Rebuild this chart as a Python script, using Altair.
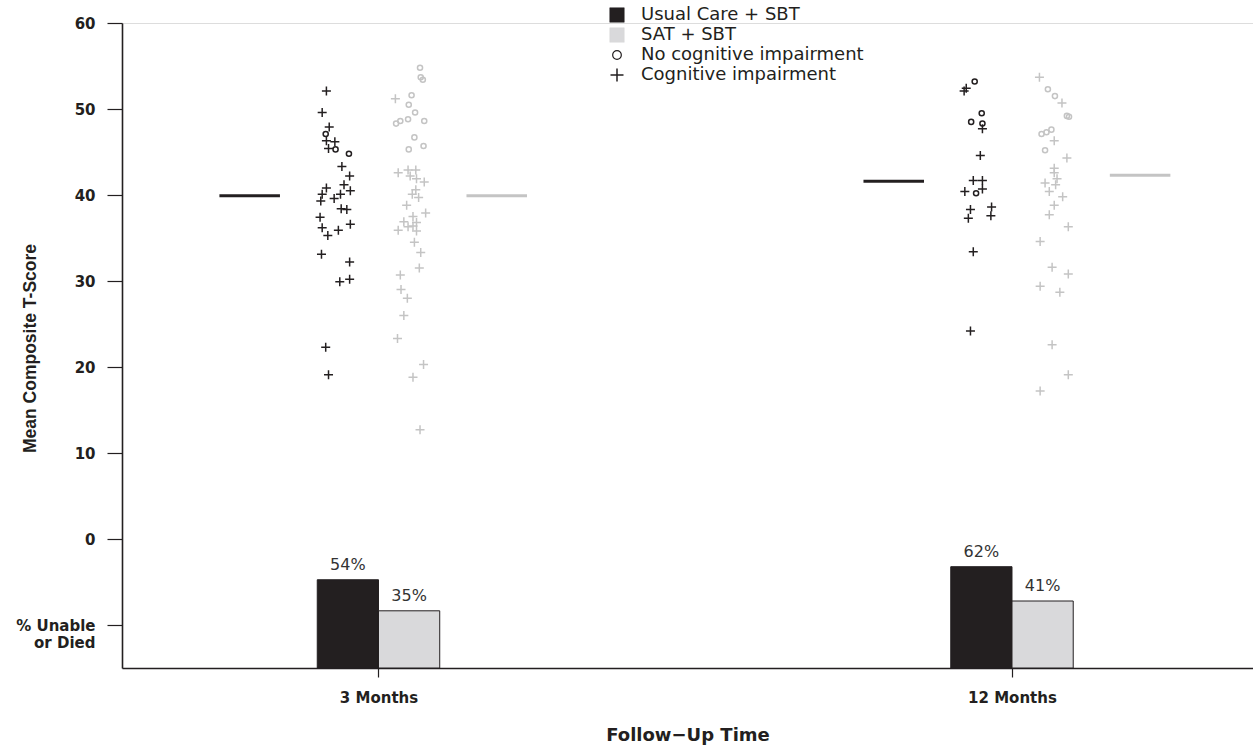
import altair as alt
import pandas as pd

# ---------------- data ----------------
group_labels = ["3 Months", "12 Months"]
group_x = [3, 12]
arms = ["Usual Care + SBT", "SAT + SBT"]

mean_usual = [39.9, 41.6]
mean_sat = [39.9, 42.3]
pct_usual = [54, 62]
pct_sat = [35, 41]

# Usual Care + SBT, 3 months
u3_x = [2.26, 2.20, 2.30, 2.25, 2.26, 2.38, 2.29, 2.39, 2.58, 2.48, 2.59, 2.51, 2.26, 2.60, 2.46, 2.20,
        2.37, 2.18, 2.47, 2.55, 2.17, 2.60, 2.20, 2.43, 2.28, 2.19, 2.59, 2.59, 2.45, 2.25, 2.29]
u3_y = [52.1, 49.6, 47.9, 47.1, 46.3, 46.2, 45.4, 45.3, 44.8, 43.3, 42.2, 41.2, 40.8, 40.5, 40.1, 40.1,
        39.6, 39.3, 38.4, 38.3, 37.4, 36.6, 36.2, 35.9, 35.3, 33.1, 32.2, 30.2, 29.9, 22.3, 19.1]
u3_s = ["+", "+", "+", "o", "+", "+", "+", "o", "o", "+", "+", "+", "+", "+", "+", "+",
        "+", "+", "+", "+", "+", "+", "+", "+", "+", "+", "+", "+", "+", "+", "+"]

# SAT + SBT, 3 months
s3_x = [3.59, 3.60, 3.63, 3.24, 3.47, 3.43, 3.52, 3.25, 3.31, 3.42, 3.65, 3.51, 3.43, 3.64, 3.28, 3.42,
        3.53, 3.45, 3.54, 3.65, 3.53, 3.48, 3.57, 3.40, 3.67, 3.49, 3.36, 3.54, 3.42, 3.49, 3.28, 3.54,
        3.51, 3.60, 3.58, 3.31, 3.32, 3.41, 3.36, 3.27, 3.64, 3.49, 3.59]
s3_y = [54.8, 53.7, 53.4, 51.2, 51.6, 50.5, 49.6, 48.3, 48.6, 48.8, 48.6, 46.7, 45.3, 45.7, 42.6, 42.9,
        42.9, 42.2, 41.9, 41.5, 40.6, 40.1, 39.7, 38.8, 37.9, 37.5, 36.9, 36.8, 36.3, 36.4, 35.9, 35.8,
        34.5, 33.3, 31.5, 30.7, 29.0, 28.0, 26.0, 23.3, 20.3, 18.8, 12.7]
s3_s = ["o", "o", "o", "+", "o", "o", "o", "o", "o", "o", "o", "o", "o", "o", "+", "+",
        "+", "+", "+", "+", "+", "+", "+", "+", "+", "+", "+", "+", "+", "+", "+", "+",
        "+", "+", "+", "+", "+", "+", "+", "+", "+", "+", "+"]

# Usual Care + SBT, 12 months
u12_x = [11.47, 11.35, 11.32, 11.57, 11.42, 11.58, 11.58, 11.55, 11.45, 11.58, 11.33, 11.49, 11.58,
         11.41, 11.71, 11.38, 11.70, 11.45, 11.41]
u12_y = [53.2, 52.4, 52.1, 49.5, 48.5, 48.3, 47.7, 44.6, 41.7, 41.7, 40.4, 40.2, 40.7,
         38.3, 38.6, 37.3, 37.6, 33.4, 24.2]
u12_s = ["o", "+", "+", "o", "o", "o", "+", "+", "+", "+", "+", "o", "+",
         "+", "+", "+", "+", "+", "+"]

# SAT + SBT, 12 months
s12_x = [12.39, 12.51, 12.61, 12.71, 12.78, 12.81, 12.42, 12.49, 12.56, 12.60, 12.47, 12.78, 12.60,
         12.60, 12.64, 12.47, 12.62, 12.53, 12.72, 12.60, 12.53, 12.80, 12.40, 12.57, 12.80, 12.40,
         12.68, 12.57, 12.80, 12.40]
s12_y = [53.7, 52.3, 51.5, 50.7, 49.2, 49.1, 47.1, 47.3, 47.6, 46.3, 45.2, 44.3, 43.1,
         42.6, 41.9, 41.4, 41.2, 40.4, 39.8, 38.8, 37.7, 36.3, 34.6, 31.6, 30.8, 29.4,
         28.7, 22.6, 19.1, 17.2]
s12_s = ["+", "o", "o", "+", "o", "o", "o", "o", "o", "+", "o", "+", "+",
         "+", "+", "+", "+", "+", "+", "+", "+", "+", "+", "+", "+", "+",
         "+", "+", "+", "+"]

legend_labels = ["Usual Care + SBT", "SAT + SBT", "No cognitive impairment", "Cognitive impairment"]

# ---------------- styles / layout ----------------
BLACK = "#231f20"
GRAY_PT = "#ababab"
GRAY_LINE = "#c4c4c4"
GRAY_BAR = "#d9d9db"
PLUS = "M-1,0L1,0M0,-1L0,1"
FONT = "DejaVu Sans"
# horizontal placement of the mean bars, relative to each time point (x units)
MEAN_OFFSET = {(3, "Usual Care + SBT"): -1.83, (3, "SAT + SBT"): 1.68,
               (12, "Usual Care + SBT"): -1.68, (12, "SAT + SBT"): 1.82}
MEAN_HALF = 0.43
BAR_W = 0.87

# ---------------- tables ----------------
rows = []
for xs, ys, ss, arm in [(u3_x, u3_y, u3_s, arms[0]), (s3_x, s3_y, s3_s, arms[1]),
                        (u12_x, u12_y, u12_s, arms[0]), (s12_x, s12_y, s12_s, arms[1])]:
    for a, b, c in zip(xs, ys, ss):
        rows.append({"x": a, "y": b, "arm": arm,
                     "status": "none" if c == "o" else "impaired"})
points_df = pd.DataFrame(rows)

mean_rows = []
bar_rows = []
for i, gx in enumerate(group_x):
    for arm, m in [(arms[0], mean_usual[i]), (arms[1], mean_sat[i])]:
        c = gx + MEAN_OFFSET[(gx, arm)]
        mean_rows.append({"arm": arm, "mean": m, "x1": c - MEAN_HALF, "x2": c + MEAN_HALF})
    bar_rows.append({"gx": gx, "arm": arms[0], "pct": pct_usual[i], "side": -1})
    bar_rows.append({"gx": gx, "arm": arms[1], "pct": pct_sat[i], "side": 1})
mean_df = pd.DataFrame(mean_rows)
bar_df = pd.DataFrame(bar_rows)
legend_df = pd.DataFrame({"label": legend_labels})

xscale = alt.Scale(domain=[-0.644, 15.424], nice=False, zero=False)
yscale = alt.Scale(domain=[-15, 60], nice=False, zero=False)

xaxis = alt.Axis(
    title="Follow\u2212Up Time", values=group_x,
    labelExpr="datum.value == 3 ? '3 Months' : '12 Months'",
    grid=False, tickSize=9, tickColor=BLACK, tickWidth=1.2,
    domainColor=BLACK, domainWidth=1.6,
    labelFont=FONT, labelFontSize=15, labelFontWeight="bold", labelColor=BLACK,
    labelPadding=13, labelFlush=False,
    titleFont=FONT, titleFontSize=18, titleFontWeight="bold", titleColor=BLACK,
    titleY=67, titleBaseline="middle",
)
yaxis = alt.Axis(
    title="Mean Composite T-Score", values=[60, 50, 40, 30, 20, 10, 0, -10],
    labelExpr="datum.value == -10 ? ['% Unable', 'or Died'] : datum.label",
    grid=False, tickSize=15, tickColor=BLACK, tickWidth=1.2,
    domainColor=BLACK, domainWidth=1.6,
    labelFont=FONT, labelFontSize=15, labelFontWeight="bold", labelColor=BLACK,
    labelPadding=12, labelLineHeight=17, labelFlush=False,
    titleFont="Liberation Sans Narrow, Liberation Sans, sans-serif",
    titleFontSize=17.5, titleFontWeight="bold", titleColor=BLACK,
    titleX=-92, titleY=325, titleAngle=270, titleBaseline="middle", titleAlign="center",
)


def X(field):
    return alt.X(field, scale=xscale, axis=xaxis)


def Y(field):
    return alt.Y(field, scale=yscale, axis=yaxis)


points = alt.Chart(points_df).mark_point(filled=False, strokeWidth=1.5, opacity=1).encode(
    x=X("x:Q"),
    y=Y("y:Q"),
    color=alt.Color("arm:N", scale=alt.Scale(domain=arms, range=[BLACK, GRAY_PT]), legend=None),
    shape=alt.Shape("status:N", scale=alt.Scale(domain=["none", "impaired"], range=["circle", PLUS]),
                    legend=None),
    size=alt.Size("status:O", scale=alt.Scale(domain=["none", "impaired"], range=[26, 81]), legend=None),
)

means = alt.Chart(mean_df).mark_rule(strokeWidth=3).encode(
    x=X("x1:Q"),
    x2="x2:Q",
    y=Y("mean:Q"),
    color=alt.Color("arm:N", scale=alt.Scale(domain=arms, range=[BLACK, GRAY_LINE]), legend=None),
)

bars = alt.Chart(bar_df).transform_calculate(
    x1=f"datum.side < 0 ? datum.gx - {BAR_W} : datum.gx",
    x2=f"datum.side < 0 ? datum.gx : datum.gx + {BAR_W}",
    top="-15 + datum.pct * 0.19",
    base="-15",
).mark_rect(stroke=BLACK, strokeWidth=1).encode(
    x=X("x1:Q"),
    x2="x2:Q",
    y=Y("top:Q"),
    y2="base:Q",
    fill=alt.Fill("arm:N", scale=alt.Scale(domain=arms, range=[BLACK, GRAY_BAR]), legend=None),
)

bar_text = alt.Chart(bar_df).transform_calculate(
    xc=f"datum.gx + datum.side * {BAR_W / 2}",
    top="-15 + datum.pct * 0.19",
    lab="datum.pct + '%'",
).mark_text(font=FONT, fontSize=16, color="#333333", baseline="middle", dy=-15).encode(
    x=X("xc:Q"),
    y=Y("top:Q"),
    text="lab:N",
)

# manual legend (pixel layout)
LX_SYM = 495
LX_TXT = 519
LYS = [-8, 12, 32, 52]
legend_layers = []
sym_specs = [
    dict(shape="square", filled=True, fill=BLACK, stroke=BLACK, size=210, strokeWidth=0.5),
    dict(shape="square", filled=True, fill=GRAY_BAR, stroke=GRAY_BAR, size=210, strokeWidth=0.5),
    dict(shape="circle", filled=False, stroke=BLACK, size=75, strokeWidth=1.2),
    dict(shape=PLUS, filled=False, stroke=BLACK, size=169, strokeWidth=1.5),
]
for lab, ly, spec in zip(legend_labels, LYS, sym_specs):
    legend_layers.append(
        alt.Chart(legend_df).transform_filter(alt.datum.label == lab)
        .mark_point(opacity=1, **spec)
        .encode(x=alt.value(LX_SYM), y=alt.value(ly))
    )
    legend_layers.append(
        alt.Chart(legend_df).transform_filter(alt.datum.label == lab)
        .mark_text(font=FONT, fontSize=18, color=BLACK, align="left", baseline="middle")
        .encode(x=alt.value(LX_TXT), y=alt.value(ly), text="label:N")
    )

chart = alt.layer(bars, bar_text, means, points, *legend_layers).properties(
    width=1131, height=645,
    autosize=alt.AutoSizeParams(type="none"),
    padding={"left": 122, "top": 23, "right": 0, "bottom": 79},
).configure_view(stroke=None).configure(background="white")

chart.save("out.html", embed_options={"renderer": "svg", "actions": False})
